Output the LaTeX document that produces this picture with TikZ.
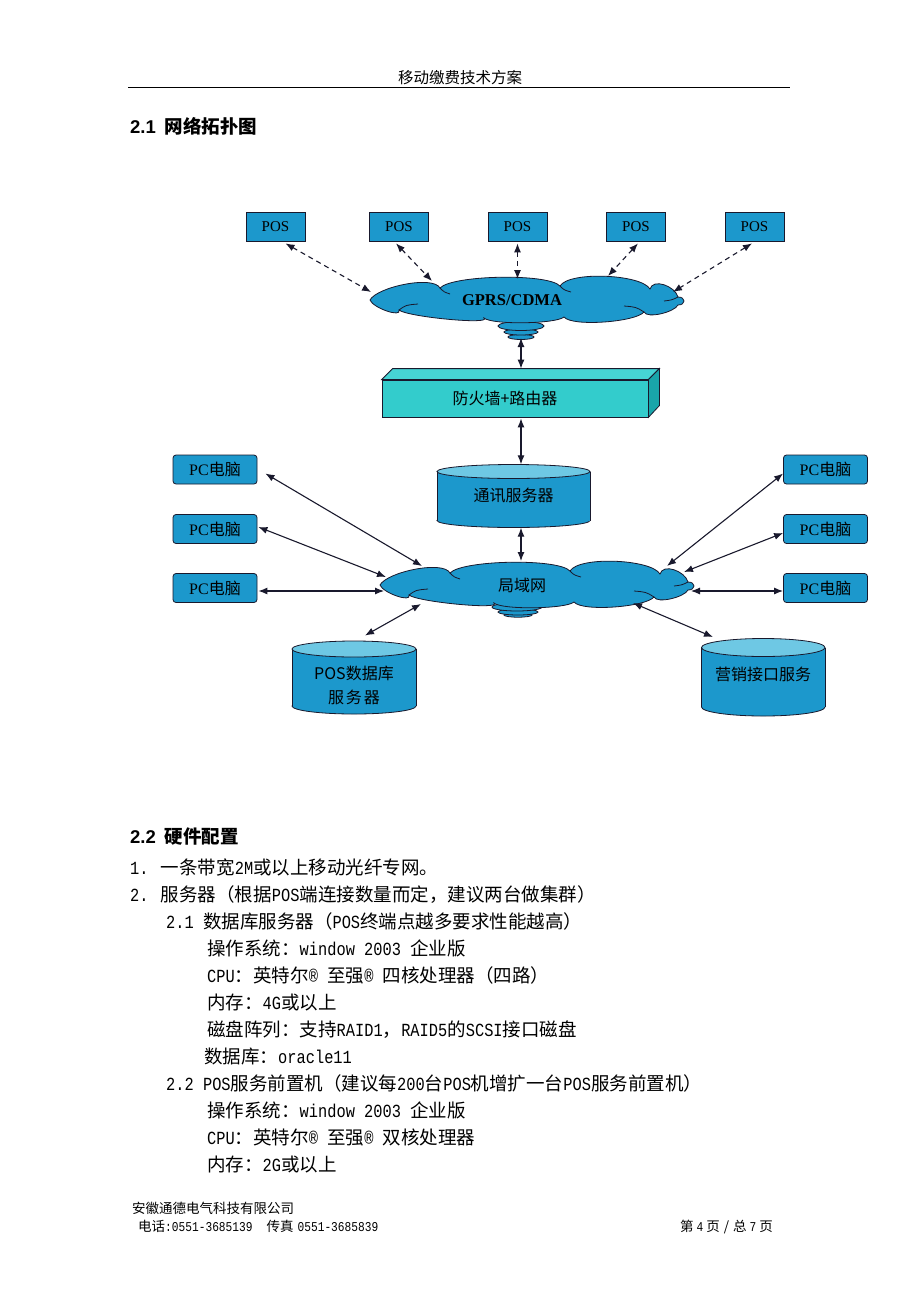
\documentclass[tikz,border=0pt]{standalone}
\usepackage{fontspec}
\setmainfont{Liberation Serif}
\newfontfamily\cjk{Noto Sans CJK SC}
\newfontfamily\mono[FakeStretch=0.83]{Liberation Mono}
\newfontfamily\hsans{Liberation Sans}
\usetikzlibrary{arrows.meta,calc}
\definecolor{netblue}{RGB}{28,152,204}
\definecolor{fwfront}{RGB}{51,204,204}
\definecolor{fwtop}{RGB}{70,212,212}
\definecolor{fwside}{RGB}{25,165,170}
\definecolor{cyltop}{RGB}{110,200,228}
\definecolor{linec}{RGB}{25,25,45}
\newcommand\lat[1]{{\mono #1}}
\newcommand\cyl[5]{%
  \draw[cylline, fill=netblue] (#1,#4) ellipse[x radius=#2, y radius=#5];
  \fill[netblue] ({#1-#2},#3) rectangle ({#1+#2},#4);
  \draw[cylline] ({#1-#2},#3) -- ({#1-#2},#4) ({#1+#2},#3) -- ({#1+#2},#4);
  \draw[cylline, fill=cyltop] (#1,#3) ellipse[x radius=#2, y radius=#5];
}
\newcommand\cloudat[2]{%
  \begin{scope}[shift={(#1,#2)}]
  \draw[cylline, fill=netblue] (-154,0)
    .. controls (-147,-13) and (-91,-25) .. (-84,-12)
    .. controls (-72,-25) and (24,-27) .. (36,-14)
    .. controls (45,-29) and (117,-26) .. (126,-11)
    .. controls (129,-22) and (151,-14) .. (154,-3)
    .. controls (162,-3) and (162,5) .. (154,5)
    .. controls (150.6,12) and (123.4,19) .. (120,12)
    .. controls (112,22) and (48,27) .. (40,17)
    .. controls (32,24) and (-32,25) .. (-40,18)
    .. controls (-31.5,25) and (-116.5,17) .. (-125,10)
    .. controls (-122,18) and (-151,8) .. (-154,0) -- cycle;
  \draw[cylline] (-84,-12) .. controls (-80,-8) .. (-74,-6);
  \draw[cylline] (36,-14) .. controls (40,-10) .. (47,-8);
  \draw[cylline] (120,12) .. controls (112,7) .. (100,6);
  \draw[cylline] (-125,10) .. controls (-118,5) .. (-106,4);
  \draw[cylline] (154,-3) .. controls (148,0) .. (140,1);
  \end{scope}}
\tikzset{
  posbox/.style={draw=linec, fill=netblue, line width=0.8pt, minimum width=59pt, minimum height=29pt, inner sep=0pt, font=\fontsize{15}{15}\selectfont},
  pcbox/.style={posbox, rounded corners=3pt, minimum width=84pt, minimum height=29pt, font=\fontsize{16}{16}\selectfont},
  cloudnode/.style={minimum width=308pt, minimum height=46pt, inner sep=0pt},
  cylline/.style={draw=linec, line width=0.8pt},
  lbl/.style={inner sep=0pt, font=\cjk\fontsize{16}{16}\selectfont},
  link/.style={draw=linec, line width=1.1pt, {Latex[length=9pt,width=7pt]}-{Latex[length=9pt,width=7pt]}},
  dlink/.style={link, dash pattern=on 5pt off 4pt},
  body/.style={inner sep=0pt, anchor=base west, font=\cjk\fontsize{18.5}{18.5}\selectfont},
  foot/.style={inner sep=0pt, anchor=base west, font=\cjk\fontsize{13.5}{13.5}\selectfont},
}
\begin{document}
\begin{tikzpicture}[x=1pt,y=-1pt]
\useasboundingbox[fill=white] (0,0) rectangle (920,1302);

% header
\node[inner sep=0pt, anchor=base, font=\cjk\fontsize{15.5}{15.5}\selectfont] (title) at (460,83) {移动缴费技术方案};
\draw[line width=1pt] (128,87) -- (790,87);
\node[inner sep=0pt, anchor=base west, font=\fontsize{18.5}{18.5}\selectfont\bfseries] (h21) at (130,133) {{\hsans 2.1}\hspace{9pt}{\cjk 网络拓扑图}};

% POS terminals
\node[posbox] (pos1) at (275.5,226.5) {POS};
\node[posbox] (pos2) at (399,226.5) {POS};
\node[posbox] (pos3) at (517.5,226.5) {POS};
\node[posbox] (pos4) at (636,226.5) {POS};
\node[posbox] (pos5) at (754.5,226.5) {POS};

% GPRS cloud
\draw[cylline, fill=netblue] (521,337) ellipse[x radius=13, y radius=2.5];
\draw[cylline, fill=netblue] (521,332) ellipse[x radius=17, y radius=3];
\draw[cylline, fill=netblue] (521,326) ellipse[x radius=23, y radius=4.5];
\cloudat{524}{300}
\node[cloudnode] (gprs) at (524,300) {};
\node[inner sep=0pt, font=\fontsize{16.5}{16.5}\selectfont\bfseries] (gprslbl) at (512,300) {GPRS/CDMA};

\draw[dlink] ($(pos1.south)+(10,2)$) -- ($(gprs)+(-153,-8)$);
\draw[dlink] ($(pos2.south)+(-3,2)$) -- ($(gprs)+(-92,-19)$);
\draw[dlink] ($(pos3.south)+(0,2)$) -- ($(gprs)+(-6.5,-21)$);
\draw[dlink] ($(pos4.south)+(2,2)$) -- ($(gprs)+(84,-24)$);
\draw[dlink] ($(pos5.south)+(-2.5,2)$) -- ($(gprs)+(149,-8)$);

% firewall
\node[draw=linec, fill=fwfront, line width=0.8pt, minimum width=266pt, minimum height=37pt, inner sep=0pt] (fw) at (515,398.5) {};
\draw[cylline, fill=fwtop] (fw.north west) -- ++(11,-11) -- ($(fw.north east)+(11,-11)$) -- (fw.north east) -- cycle;
\draw[cylline, fill=fwside] (fw.north east) -- ++(11,-11) -- ++(0,37) -- (fw.south east) -- cycle;
\node[lbl] (fwlbl) at (505,398) {防火墙+路由器};

\draw[link] ($(gprs)+(-3,38)$) -- ($(fw.north)+(6,-11)$);

% communication server
\cyl{513.5}{76.5}{471.5}{520.5}{7}
\node[lbl, minimum width=153pt, minimum height=63pt] (tx) at (513.5,496) {通讯服务器};
\draw[link] ($(fw.south)+(6,1)$) -- ($(tx.north)+(7.5,0)$);

% LAN cloud
\draw[cylline, fill=netblue] (518,615) ellipse[x radius=14, y radius=2.2];
\draw[cylline, fill=netblue] (518,612) ellipse[x radius=20, y radius=3];
\draw[cylline, fill=netblue] (517,607) ellipse[x radius=25, y radius=4];
\cloudat{534}{585}
\node[cloudnode] (lan) at (534,585) {};
\node[lbl] (lanlbl) at (522,585) {局域网};
\draw[link] ($(tx.south)+(7.5,0)$) -- ($(lan)+(-13,-24)$);

% PCs
\node[pcbox] (pcl1) at (215,469.5) {PC{\cjk 电脑}};
\node[pcbox] (pcl2) at (215,529) {PC{\cjk 电脑}};
\node[pcbox] (pcl3) at (215,588) {PC{\cjk 电脑}};
\node[pcbox] (pcr1) at (825.5,469.5) {PC{\cjk 电脑}};
\node[pcbox] (pcr2) at (825.5,529) {PC{\cjk 电脑}};
\node[pcbox] (pcr3) at (825.5,588) {PC{\cjk 电脑}};

\draw[link] ($(pcl1.east)+(8,4)$) -- ($(lan)+(-112,-19)$);
\draw[link] ($(pcl2.east)+(1,-2)$) -- ($(lan)+(-148,-8)$);
\draw[link] ($(pcl3.east)+(1,3)$) -- ($(lan)+(-150,6)$);
\draw[link] ($(pcr1.west)+(0,4)$) -- ($(lan)+(133,-19)$);
\draw[link] ($(pcr2.west)+(0,4)$) -- ($(lan)+(150,-13)$);
\draw[link] ($(pcr3.west)+(0,3)$) -- ($(lan)+(157,6)$);

% database servers
\cyl{354}{62}{649}{706}{8}
\node[lbl, align=center] (posdb) at (354,685.5) {{\fontsize{16}{16}\selectfont POS}数据库\\[8pt]服\hspace{2pt}务\hspace{2pt}器};
\cyl{763.25}{61.75}{647.5}{707}{9}
\node[lbl] (yx) at (763,674) {营销接口服务};

\draw[link] ($(posdb)+(11,-50)$) -- ($(lan)+(-113,19)$);
\draw[link] ($(yx)+(-50,-37)$) -- ($(lan)+(99,18)$);

% hardware section
\node[inner sep=0pt, anchor=base west, font=\fontsize{18.5}{18.5}\selectfont\bfseries] (h22) at (130,843) {{\hsans 2.2}\hspace{9pt}{\cjk 硬件配置}};
\node[body] (l1) at (130,874) {\lat{1. }一条带宽\lat{2M}或以上移动光纤专网。};
\node[body] (l2) at (130,901) {\lat{2. }服务器（根据\lat{POS}端连接数量而定，建议两台做集群）};
\node[body] (l3) at (166,928) {\lat{2.1 }数据库服务器（\lat{POS}终端点越多要求性能越高）};
\node[body] (l4) at (207,955) {操作系统：\lat{window 2003 }企业版};
\node[body] (l5) at (207,982) {\lat{CPU}：英特尔\lat{® }至强\lat{® }四核处理器（四路）};
\node[body] (l6) at (207,1009) {内存：\lat{4G}或以上};
\node[body] (l7) at (207,1036) {磁盘阵列：支持\lat{RAID1}，\lat{RAID5}的\lat{SCSI}接口磁盘};
\node[body] (l8) at (204,1063) {数据库：\lat{oracle11}};
\node[body] (l9) at (166,1090) {\lat{2.2 POS}服务前置机（建议每\lat{200}台\lat{POS}机增扩一台\lat{POS}服务前置机）};
\node[body] (l10) at (207,1117) {操作系统：\lat{window 2003 }企业版};
\node[body] (l11) at (207,1144) {\lat{CPU}：英特尔\lat{® }至强\lat{® }双核处理器};
\node[body] (l12) at (207,1171) {内存：\lat{2G}或以上};

% footer
\node[foot] (f1) at (132,1213) {安徽通德电气科技有限公司};
\node[foot] (f2) at (138,1231) {电话\lat{:0551-3685139}\hspace{14pt}传真\hspace{4pt}\lat{0551-3685839}};
\node[foot, anchor=base east] (f3) at (773,1231) {第\hspace{3pt}\lat{4}\hspace{3pt}页\hspace{4pt}/\hspace{4pt}总\hspace{3pt}\lat{7}\hspace{3pt}页};
\end{tikzpicture}
\end{document}
